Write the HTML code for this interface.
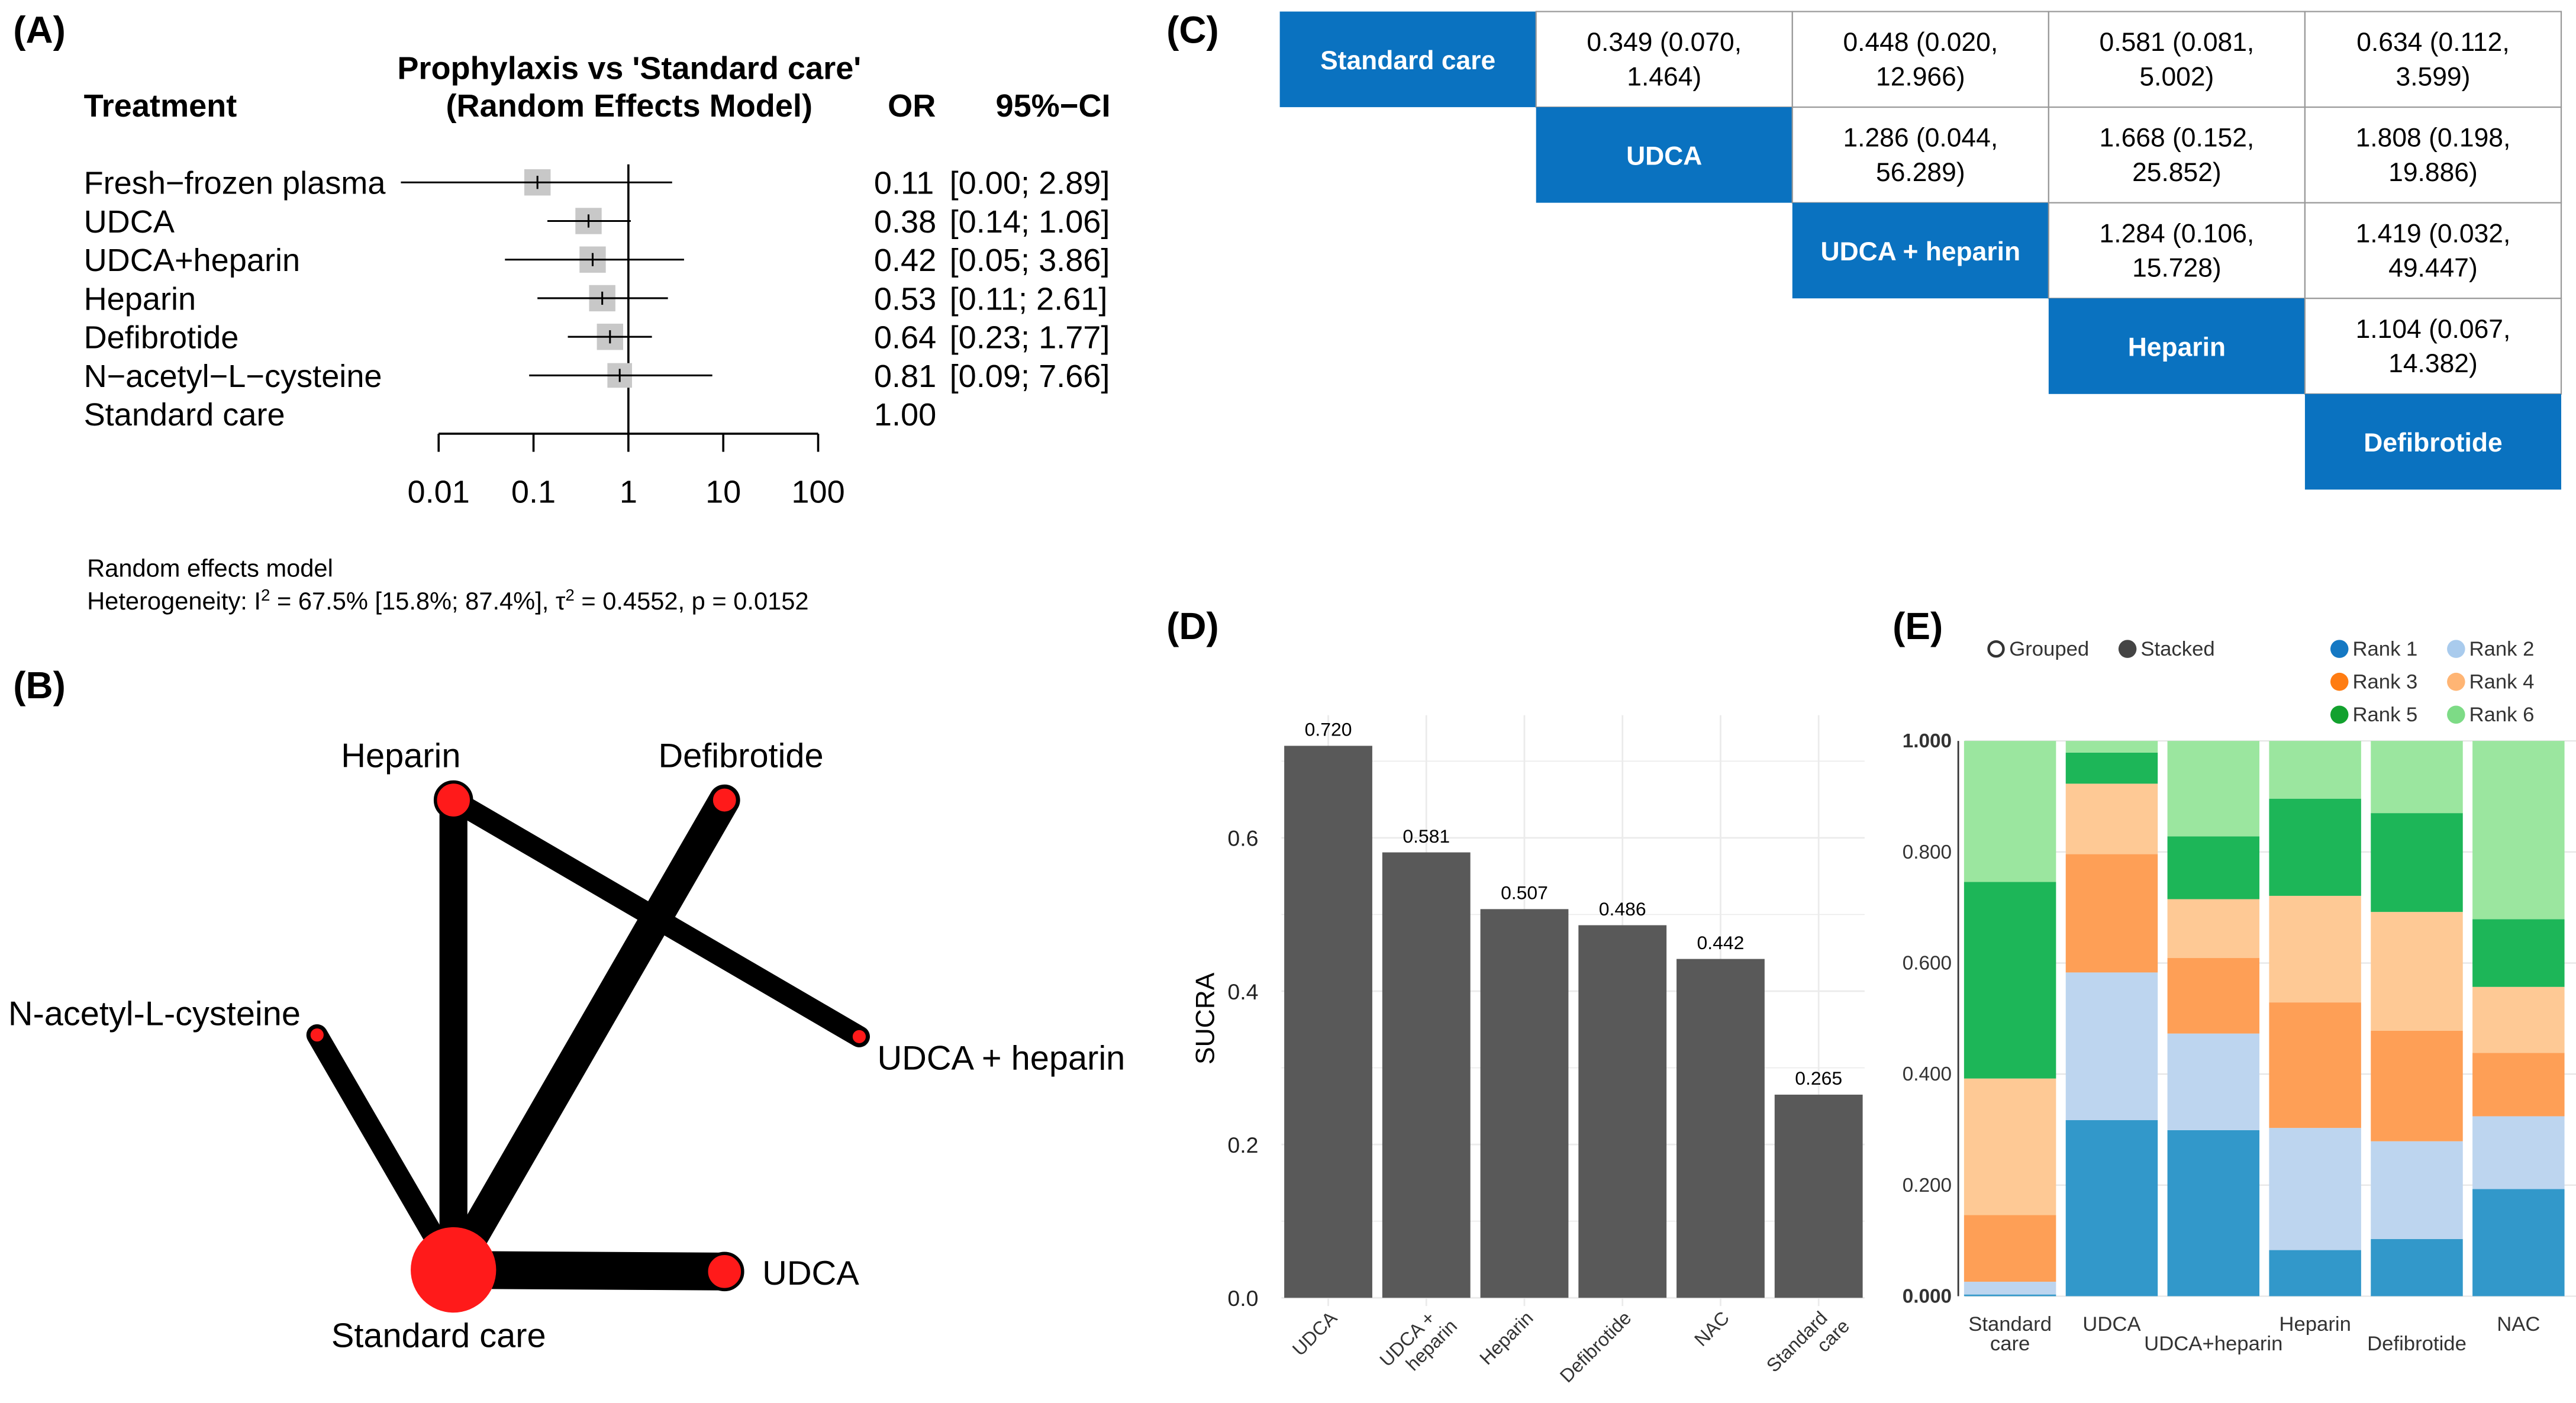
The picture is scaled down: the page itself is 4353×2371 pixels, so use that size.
<!DOCTYPE html>
<html><head><meta charset="utf-8"><style>
html,body{margin:0;padding:0;background:#fff}
svg{display:block;font-family:"Liberation Sans",Arial,sans-serif}
</style></head><body>
<svg id="fig" width="4353" height="2371" viewBox="0 0 1568 854" xmlns="http://www.w3.org/2000/svg">
<rect width="1568" height="854" fill="#fff"/>
<g font-weight="bold" font-size="23">
<text x="8" y="26">(A)</text>
<text x="8" y="425">(B)</text>
<text x="710" y="26">(C)</text>
<text x="710" y="389">(D)</text>
<text x="1152" y="389">(E)</text>
</g>
<g id="forest" font-size="19.5">
<text x="383" y="48" text-anchor="middle" font-weight="bold">Prophylaxis vs 'Standard care'</text>
<text x="383" y="71" text-anchor="middle" font-weight="bold">(Random Effects Model)</text>
<text x="51" y="71" font-weight="bold">Treatment</text>
<text x="555" y="71" text-anchor="middle" font-weight="bold">OR</text>
<text x="641" y="71" text-anchor="middle" font-weight="bold">95%−CI</text>
<text x="53" y="351" font-size="15">Random effects model</text>
<text x="53" y="371" font-size="15">Heterogeneity: I<tspan baseline-shift="super" font-size="10">2</tspan> = 67.5% [15.8%; 87.4%], τ<tspan baseline-shift="super" font-size="10">2</tspan> = 0.4552, p = 0.0152</text>
</g>
<g id="network"></g>
<g id="table"></g>
<g id="sucra"></g>
<g id="rank"></g>
</svg>
<script>
const NS="http://www.w3.org/2000/svg";
function mk(parent,tag,attrs,text){const e=document.createElementNS(NS,tag);for(const k in attrs)e.setAttribute(k,attrs[k]);if(text!==undefined)e.textContent=text;parent.appendChild(e);return e;}

/* ---------- Panel A data ---------- */
const forestTreatments=["Fresh−frozen plasma","UDCA","UDCA+heparin","Heparin","Defibrotide","N−acetyl−L−cysteine","Standard care"];
const forestOR=[0.11,0.38,0.42,0.53,0.64,0.81,1.00];
const forestLo=[0.004,0.14,0.05,0.11,0.23,0.09,null];
const forestHi=[2.89,1.06,3.86,2.61,1.77,7.66,null];
const forestORLabels=["0.11","0.38","0.42","0.53","0.64","0.81","1.00"];
const forestCILabels=["[0.00; 2.89]","[0.14; 1.06]","[0.05; 3.86]","[0.11; 2.61]","[0.23; 1.77]","[0.09; 7.66]",""];
const forestWeights=[16,16,16,16,16,15,0];
const forestTicks=[0.01,0.1,1,10,100];
const forestTickLabels=["0.01","0.1","1","10","100"];

const fg=document.getElementById('forest');
const fx=v=>382.5+Math.log10(v)*57.75;
const fy=i=>111+i*23.5;
let ln=mk(fg,'line',{x1:fx(0.01),x2:fx(100),y1:264,y2:264,stroke:'#000','stroke-width':1.3});


ln=mk(fg,'line',{x1:fx(1),x2:fx(1),y1:100,y2:264,stroke:'#000','stroke-width':1.3});


forestTicks.forEach((t,i)=>{
  const tk=mk(fg,'line',{x1:fx(t),x2:fx(t),y1:264,y2:275,stroke:'#000','stroke-width':1.3});
  
  
  const tl=mk(fg,'text',{x:fx(t),y:306,'text-anchor':'middle'},forestTickLabels[i]);
  
  
});
forestTreatments.forEach((t,i)=>{
  const y=fy(i);
  const lb=mk(fg,'text',{x:51,y:y+7},t);
  
  
  const ol=mk(fg,'text',{x:532,y:y+7},forestORLabels[i]);
  
  
  const cl=mk(fg,'text',{x:578,y:y+7},forestCILabels[i]);
  
  
  if(forestLo[i]!==null){
    const w=forestWeights[i];
    const bx=mk(fg,'rect',{x:fx(forestOR[i])-w/2,y:y-w/2,width:w,height:w,fill:'#c8c8c8'});
    
    
    const ci=mk(fg,'line',{x1:fx(forestLo[i]),x2:fx(forestHi[i]),y1:y,y2:y,stroke:'#000','stroke-width':1.1});
    
    
    const pt=mk(fg,'line',{x1:fx(forestOR[i]),x2:fx(forestOR[i]),y1:y-4,y2:y+4,stroke:'#000','stroke-width':1.1});
    
    
  }
});

/* ---------- Panel B network ---------- */
const netNodes=["Heparin","Defibrotide","N-acetyl-L-cysteine","UDCA + heparin","Standard care","UDCA"];
const netNodeX=[276,441,193,523,276,441];
const netNodeY=[487,487,630,631,773,774];
const netNodeR=[11,8,5,5,26,11];
const netEdgeFrom=[4,4,4,4,0];
const netEdgeTo=[0,1,5,2,3];
const netEdgeW=[17,19,23,13,13];
const ng=document.getElementById('network');
netEdgeFrom.forEach((a,i)=>{
  const b=netEdgeTo[i];
  const e=mk(ng,'line',{x1:netNodeX[a],y1:netNodeY[a],x2:netNodeX[b],y2:netNodeY[b],stroke:'#000','stroke-width':netEdgeW[i],'stroke-linecap':'round'});
  
  
});
const labelPos=[[244,467,'middle'],[451,467,'middle'],[5,624,'start'],[534,651,'start'],[267,820,'middle'],[464,782,'start']];
netNodes.forEach((n,i)=>{
  const c=mk(ng,'circle',{cx:netNodeX[i],cy:netNodeY[i],r:netNodeR[i],fill:'#ff1a1a',stroke:'#000','stroke-width':i==4?0:2});
  
  
  const t=mk(ng,'text',{x:labelPos[i][0],y:labelPos[i][1],'text-anchor':labelPos[i][2],'font-size':20.8},n);
  
  
});

/* ---------- Panel C league table ---------- */
const leagueNames=["Standard care","UDCA","UDCA + heparin","Heparin","Defibrotide"];
const leagueCells=[
 [null,"0.349 (0.070,|1.464)","0.448 (0.020,|12.966)","0.581 (0.081,|5.002)","0.634 (0.112,|3.599)"],
 [null,null,"1.286 (0.044,|56.289)","1.668 (0.152,|25.852)","1.808 (0.198,|19.886)"],
 [null,null,null,"1.284 (0.106,|15.728)","1.419 (0.032,|49.447)"],
 [null,null,null,null,"1.104 (0.067,|14.382)"],
 [null,null,null,null,null]];
const tg=document.getElementById('table');
const cx0=779,cw=156,cy0=7,ch=58.2;
for(let r=0;r<5;r++)for(let c=r;c<5;c++){
  const x=cx0+c*cw,y=cy0+r*ch;
  if(c===r){
    const b=mk(tg,'rect',{x:x,y:y,width:cw,height:ch,fill:'#0a72c0'});
    
    
    const t=mk(tg,'text',{x:x+cw/2,y:y+ch/2+6,'text-anchor':'middle',fill:'#fff','font-weight':'bold','font-size':16},leagueNames[r]);
    
    
  } else {
    const b=mk(tg,'rect',{x:x,y:y,width:cw,height:ch,fill:'#fff',stroke:'#999','stroke-width':0.8});
    
    
    const parts=leagueCells[r][c].split('|');
    const t1=mk(tg,'text',{x:x+cw/2,y:y+24,'text-anchor':'middle','font-size':16},parts[0]);
    
    
    const t2=mk(tg,'text',{x:x+cw/2,y:y+45,'text-anchor':'middle','font-size':16},parts[1]);
    
    
  }
}

/* ---------- Panel D SUCRA ---------- */
const sucraCats=["UDCA","UDCA +|heparin","Heparin","Defibrotide","NAC","Standard|care"];
const sucraVals=[0.720,0.581,0.507,0.486,0.442,0.265];
const sucraLabels=["0.720","0.581","0.507","0.486","0.442","0.265"];
const sucraTicks=[0,0.2,0.4,0.6];
const sucraTickLabels=["0.0","0.2","0.4","0.6"];
const sg=document.getElementById('sucra');
const sy=v=>790-v*466.7;
const sx=i=>808.5+i*59.7;
for(let v=0;v<=0.75;v+=0.1){
  const g=mk(sg,'line',{x1:780,x2:1135,y1:sy(v),y2:sy(v),stroke:'#ebebeb','stroke-width':v*10%2<0.5?1:0.6});
  
  
}
sucraCats.forEach((c,i)=>{
  const g=mk(sg,'line',{x1:sx(i),x2:sx(i),y1:sy(0.76),y2:795,stroke:'#ebebeb','stroke-width':1});
  
  
});
sucraTicks.forEach((t,i)=>{
  const l=mk(sg,'text',{x:766,y:sy(t)+5,'text-anchor':'end','font-size':13.5,fill:'#222'},sucraTickLabels[i]);
  
  
});
sucraVals.forEach((v,i)=>{
  const b=mk(sg,'rect',{x:sx(i)-26.8,y:sy(v),width:53.6,height:sy(0)-sy(v),fill:'#595959'});
  
  
  const t=mk(sg,'text',{x:sx(i),y:sy(v)-6,'text-anchor':'middle','font-size':11.5},sucraLabels[i]);
  
  
  const parts=sucraCats[i].split('|');
  const tg2=mk(sg,'text',{transform:`translate(${sx(i)+6},${803}) rotate(-45)`,'text-anchor':'end','font-size':11.5,fill:'#333'});
  
  
  parts.forEach((p,k)=>{mk(tg2,'tspan',{x:k*6,dy:k?13:0},p);});
});
const yl=mk(sg,'text',{transform:'translate(739,620) rotate(-90)','text-anchor':'middle','font-size':16},'SUCRA');



/* ---------- Panel E rank probabilities ---------- */
const rankCats=["Standard|care","UDCA","UDCA+heparin","Heparin","Defibrotide","NAC"];
const rank1=[0.003,0.317,0.299,0.083,0.103,0.193];
const rank2=[0.023,0.266,0.174,0.220,0.176,0.131];
const rank3=[0.120,0.213,0.136,0.226,0.199,0.114];
const rank4=[0.246,0.127,0.106,0.192,0.214,0.119];
const rank5=[0.354,0.056,0.113,0.175,0.178,0.122];
const rank6=[0.254,0.021,0.172,0.104,0.130,0.321];
const rankTicks=[0,0.2,0.4,0.6,0.8,1.0];
const rankTickLabels=["0.000","0.200","0.400","0.600","0.800","1.000"];
const rankNames=["Rank 1","Rank 2","Rank 3","Rank 4","Rank 5","Rank 6"];
const rankColors=["#3298ca","#bdd5ef","#fe9f56","#fec995","#1db658","#9be69f"];
const legendColors=["#1478c3","#a9cbed","#ff7c12","#ffb574","#12a12e","#7ddb86"];
const rg=document.getElementById('rank');
const ry=v=>789-v*338;
const rx=i=>1223.5+i*61.9;
rankTicks.forEach((t,i)=>{
  const g=mk(rg,'line',{x1:1196,x2:1568,y1:ry(t),y2:ry(t),stroke:'#e6e6e6','stroke-width':0.8});
  
  
  const l=mk(rg,'text',{x:1188,y:ry(t)+4,'text-anchor':'end','font-size':12,'font-weight':i==0||i==5?'bold':'normal',fill:'#333'},rankTickLabels[i]);
  
  
});
const ax=mk(rg,'line',{x1:1192,x2:1192,y1:ry(1),y2:ry(0),stroke:'#333','stroke-width':1});


const series=[rank1,rank2,rank3,rank4,rank5,rank6];
rankCats.forEach((c,i)=>{
  let acc=0;
  series.forEach((s,k)=>{
    const b=mk(rg,'rect',{x:rx(i)-28,y:ry(acc+s[i]),width:56,height:ry(acc)-ry(acc+s[i]),fill:rankColors[k]});
    
    
    acc+=s[i];
  });
  const parts=c.split('|');
  const low=(i==2||i==4);
  const t=mk(rg,'text',{x:rx(i),y:low?822:810,'text-anchor':'middle','font-size':12.5,fill:'#333'});
  
  
  parts.forEach((p,k)=>{mk(t,'tspan',{x:rx(i),dy:k?12:0},p);});
});
const lg1=mk(rg,'circle',{cx:1215,cy:395,r:4.5,fill:'#fff',stroke:'#333','stroke-width':1.6});


const lt1=mk(rg,'text',{x:1223,y:399,'font-size':12.5,fill:'#333'},'Grouped');


const lg2=mk(rg,'circle',{cx:1295,cy:395,r:5.5,fill:'#444'});


const lt2=mk(rg,'text',{x:1303,y:399,'font-size':12.5,fill:'#333'},'Stacked');


rankNames.forEach((n,k)=>{
  const x=1424+(k%2)*71, y=395+Math.floor(k/2)*20;
  const c=mk(rg,'circle',{cx:x,cy:y,r:5.5,fill:legendColors[k]});
  
  
  const t=mk(rg,'text',{x:x+8,y:y+4,'font-size':12.5,fill:'#333'},n);
  
  
});
</script>
</body></html>
